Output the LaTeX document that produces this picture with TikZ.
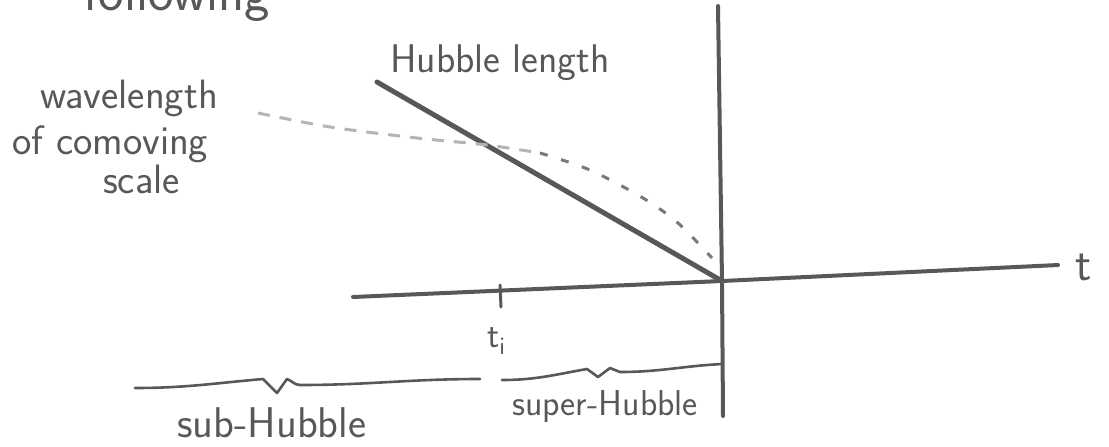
\documentclass[tikz,border=0pt]{standalone}
\usepackage{fontspec}
\usepackage{tikz}
\usetikzlibrary{positioning}
\definecolor{pencil}{RGB}{88,88,88}
\definecolor{faint}{RGB}{180,180,180}
\definecolor{midgray}{RGB}{120,120,120}

\begin{document}
\begin{tikzpicture}[x=1pt, y=-1pt,
        hand/.style={text=pencil, inner sep=0pt, anchor=base west, font=\sffamily\fontsize{#1}{#1}\selectfont},
        hand/.default=40,
        pen/.style={draw=pencil, line width=4pt, line cap=round, line join=round},
        brc/.style={pen, line width=2.6pt}]
        \useasboundingbox (0,0) rectangle (1109,447);
        \clip (0,0) rectangle (1109,447);
        \coordinate (O) at (722,281);
        \coordinate (Vtop) at (718,6);
        \coordinate (Vbot) at (723,416);
        \coordinate (Tl) at (353,297);
        \coordinate (Tr) at (1058,265);
        \coordinate (Hs) at (377,82);
        \coordinate (tiTop) at (500,285);
        \coordinate (tiBot) at (501,307);
        % braces
        \coordinate (Sa) at (135,388);
        \coordinate (Stip) at (277,393);
        \coordinate (Sb) at (480,379);
        \coordinate (Pa) at (502,380);
        \coordinate (Ptip) at (598,377);
        \coordinate (Pb) at (722,364);

        \node (follow) [hand=54] at (83,10) {following};
        \node (hubble) [hand=40] at (390,72) {Hubble length};
        \node (wave) [hand=41] at (40,108) {wavelength};
        \node (comov) [hand=41] at (12,154) {of comoving};
        \node (scale) [hand=41] at (103,193) {scale};
        \node (tlab) [hand=48] at (1075,280) {t};
        \node (tilab) [hand=36] at (487,347) {t\textsubscript{i}};
        \node (sub) [hand=43] at (177,437) {sub-Hubble};
        \node (super) [hand=36] at (512,415) {super-Hubble};

        \draw[pen] (Vtop) -- (O) -- (Vbot);
        \draw[pen] (Tl) -- (O) -- (Tr);
        \draw[pen, line width=5pt] (Hs) -- (O);
        \draw[pen, line width=3pt] (tiTop) -- (tiBot);
        \draw[faint, line width=3pt, dash pattern=on 12pt off 10pt]
            plot[smooth] coordinates {(258,113) (330,127) (417,138) (487,145) (540,153)};
        \draw[midgray, line width=3pt, dash pattern=on 8pt off 14pt]
            plot[smooth] coordinates {(540,153) (590,170) (643,198) (678,223) (712,258)};
        \draw[brc] (Sa) to[out=0, in=185] (263,379) -- (Stip) -- (287,379)
            to[out=-20, in=180] (300,385) to[out=0, in=180] (Sb);
        \draw[brc] (Pa) to[out=0, in=190] (587,369) -- (Ptip) -- (610,368)
            -- (620,372) to[out=0, in=183] (Pb);
    \end{tikzpicture}
\end{document}
